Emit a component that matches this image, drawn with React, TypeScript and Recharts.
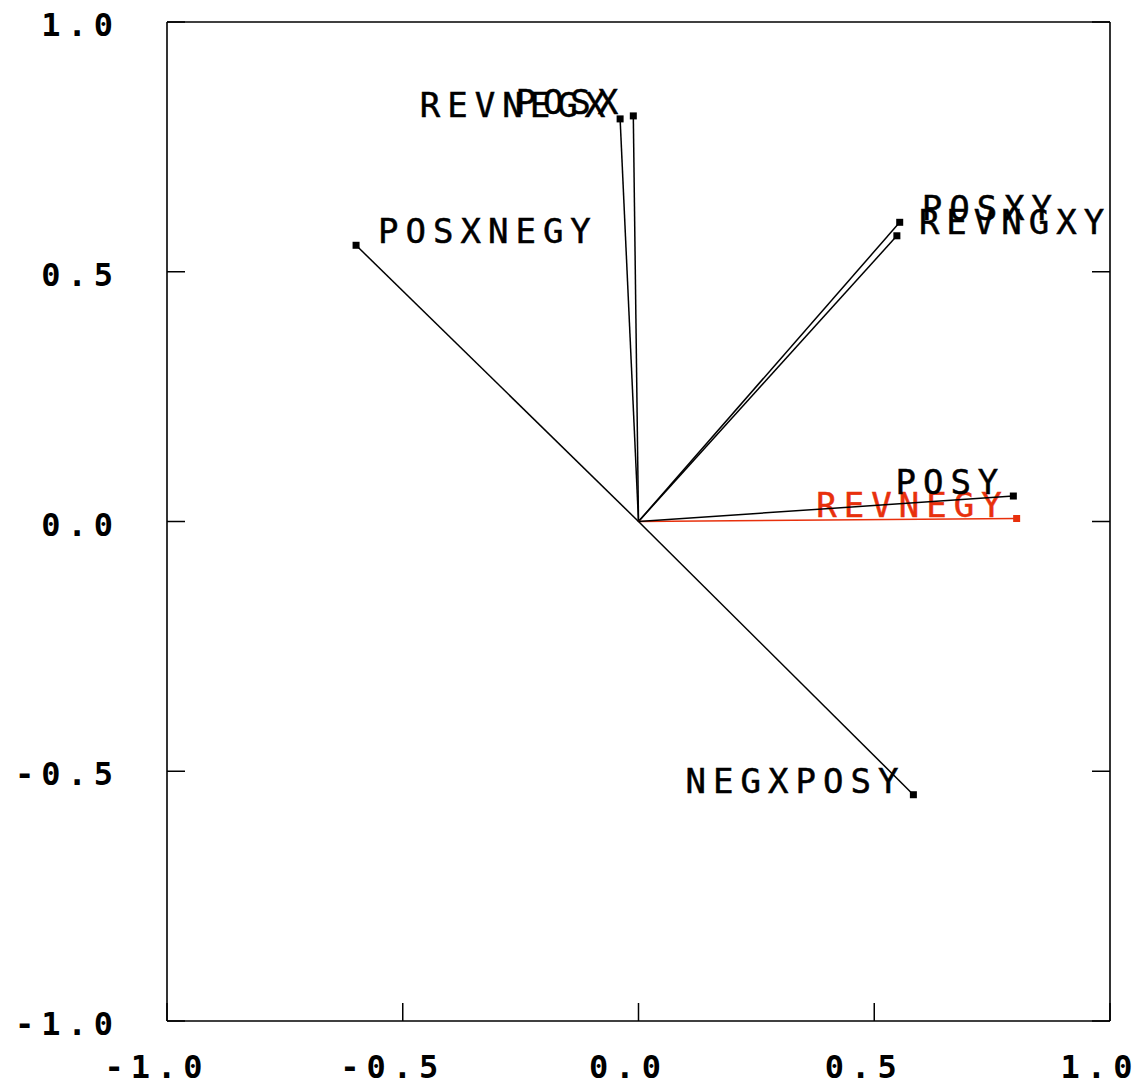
import React from "react";
import { ScatterChart, Scatter, XAxis, YAxis } from "recharts";

// vectors
const vectorNames = ["POSX", "REVNEGX", "POSXNEGY", "POSXY", "REVNGXY", "REVNEGY", "POSY", "NEGXPOSY"];
const vectorX = [-0.011, -0.039, -0.599, 0.554, 0.548, 0.802, 0.795, 0.583];
const vectorY = [0.812, 0.806, 0.553, 0.599, 0.572, 0.006, 0.051, -0.547];

const axisTicks = [-1, -0.5, 0, 0.5, 1];
const tickLabels = ["-1.0", "-0.5", "0.0", "0.5", "1.0"];

const labelsOnRight = ["POSXNEGY", "POSXY", "REVNGXY"];
const highlighted = "REVNEGY";

const INK = "#000";
const RED = "#e8300c";
const TICK = 18;
const MONO = "'DejaVu Sans Mono', 'Liberation Mono', monospace";

const tickText = (v: number) => tickLabels[axisTicks.indexOf(v)] ?? String(v);

const tickFont = {
  fontFamily: MONO,
  fontSize: 32,
  fontWeight: 700,
  letterSpacing: 7,
  fill: INK,
};

function BottomTick({ x, y, payload }: any) {
  return (
    <g>
      <line x1={x} y1={y} x2={x} y2={y - TICK} stroke={INK} strokeWidth={1.5} />
      <text x={x - 10} y={y + 57} textAnchor="middle" style={tickFont}>
        {tickText(payload.value)}
      </text>
    </g>
  );
}

function LeftTick({ x, y, payload }: any) {
  return (
    <g>
      <line x1={x} y1={y} x2={x + TICK} y2={y} stroke={INK} strokeWidth={1.5} />
      <text x={x - 47} y={y + 14} textAnchor="end" style={tickFont}>
        {tickText(payload.value)}
      </text>
    </g>
  );
}

function TopTick({ x, y }: any) {
  return <line x1={x} y1={y} x2={x} y2={y + TICK} stroke={INK} strokeWidth={1.5} />;
}

function RightTick({ x, y }: any) {
  return <line x1={x} y1={y} x2={x - TICK} y2={y} stroke={INK} strokeWidth={1.5} />;
}

function vectorShape(name: string, color: string, right: boolean) {
  return (props: any) => {
    const { cx, cy, payload } = props;
    if (payload.x === 0 && payload.y === 0) return <g />;
    return (
      <g>
        <rect x={cx - 3.5} y={cy - 3.5} width={7} height={7} fill={color} />
        <text
          x={right ? cx + 22 : cx - 8}
          y={cy - 2}
          textAnchor={right ? "start" : "end"}
          stroke={color}
          strokeWidth={0.5}
          style={{ fontFamily: MONO, fontSize: 34, letterSpacing: 7, fill: color }}
        >
          {name}
        </text>
      </g>
    );
  };
}

export default function App() {
  const axisLine = { stroke: INK, strokeWidth: 1.6 };
  return (
    <div style={{ position: "absolute", left: 0, top: 0, background: "#fff" }}>
      <ScatterChart width={1140} height={1087} margin={{ top: 0, right: 0, bottom: 0, left: 0 }}>
        <XAxis
          type="number"
          dataKey="x"
          domain={[-1, 1]}
          ticks={axisTicks}
          allowDataOverflow
          height={66}
          tickSize={0}
          tickMargin={0}
          tickLine={false}
          axisLine={axisLine}
          tick={<BottomTick />}
        />
        <XAxis
          xAxisId="top"
          orientation="top"
          type="number"
          domain={[-1, 1]}
          ticks={axisTicks}
          allowDataOverflow
          height={22}
          tickSize={0}
          tickMargin={0}
          tickLine={false}
          axisLine={axisLine}
          tick={<TopTick />}
        />
        <YAxis
          type="number"
          dataKey="y"
          domain={[-1, 1]}
          ticks={axisTicks}
          allowDataOverflow
          width={167}
          tickSize={0}
          tickMargin={0}
          tickLine={false}
          axisLine={axisLine}
          tick={<LeftTick />}
        />
        <YAxis
          yAxisId="right"
          orientation="right"
          type="number"
          domain={[-1, 1]}
          ticks={axisTicks}
          allowDataOverflow
          width={30}
          tickSize={0}
          tickMargin={0}
          tickLine={false}
          axisLine={axisLine}
          tick={<RightTick />}
        />
        {vectorNames.map((name, i) => {
          const color = name === highlighted ? RED : INK;
          return (
            <Scatter
              key={name}
              name={name}
              data={[
                { x: 0, y: 0 },
                { x: vectorX[i], y: vectorY[i] },
              ]}
              line={{ stroke: color, strokeWidth: 1.5 }}
              lineType="joint"
              shape={vectorShape(name, color, labelsOnRight.includes(name))}
              isAnimationActive={false}
            />
          );
        })}
      </ScatterChart>
    </div>
  );
}
